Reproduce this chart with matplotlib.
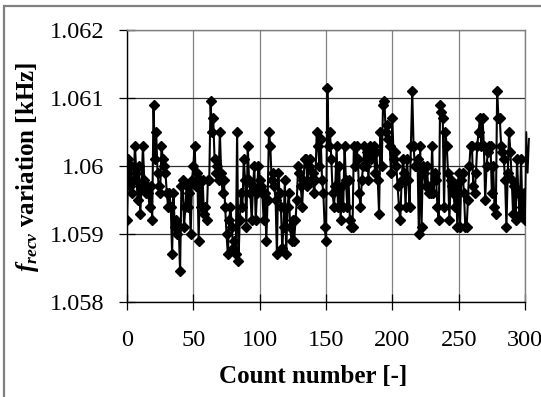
import numpy as np
import matplotlib
matplotlib.use("Agg")
import matplotlib.pyplot as plt
from matplotlib.patches import Rectangle

plt.rcParams['font.family'] = ['Liberation Serif', 'DejaVu Serif']
plt.rcParams['mathtext.fontset'] = 'custom'
plt.rcParams['mathtext.rm'] = 'Liberation Serif'
plt.rcParams['mathtext.it'] = 'Liberation Serif:italic'
plt.rcParams['mathtext.bf'] = 'Liberation Serif:bold'
plt.rcParams['mathtext.bfit'] = 'Liberation Serif:italic:bold'

# Frequency readings (kHz), count 0..300
freq_0_49 = [1.0592, 1.0601, 1.0597, 1.0600, 1.0596, 1.0598, 1.0603, 1.0599, 1.0595, 1.0600,
             1.0593, 1.0597, 1.0603, 1.0598, 1.0596, 1.0597, 1.0596, 1.0594, 1.0597, 1.0592,
             1.0609, 1.0601, 1.0605, 1.0599, 1.0597, 1.0596, 1.0603, 1.0601, 1.0600, 1.0599,
             1.0596, 1.0594, 1.0596, 1.0594, 1.0587, 1.0596, 1.0591, 1.0592, 1.0590, 1.0591,
             1.05845, 1.0597, 1.0598, 1.0591, 1.0594, 1.0597, 1.0594, 1.0596, 1.0590, 1.0598]
freq_50_99 = [1.0600, 1.0603, 1.0597, 1.0599, 1.0589, 1.0598, 1.0594, 1.0598, 1.0593, 1.0594,
              1.0592, 1.0598, 1.0598, 1.06095, 1.0605, 1.0607, 1.0601, 1.0599, 1.0600, 1.0598,
              1.0605, 1.0599, 1.0596, 1.0598, 1.0594, 1.0590, 1.0587, 1.0592, 1.0594, 1.0591,
              1.0588, 1.0589, 1.0587, 1.0605, 1.0586, 1.0592, 1.0596, 1.0594, 1.0601, 1.0598,
              1.0591, 1.0603, 1.0598, 1.0596, 1.0592, 1.0597, 1.0600, 1.0592, 1.0596, 1.0600]
freq_100_149 = [1.0598, 1.0597, 1.0596, 1.0592, 1.0596, 1.0589, 1.0595, 1.0605, 1.0603, 1.0598,
                1.0599, 1.0597, 1.0595, 1.0587, 1.0599, 1.0596, 1.0594, 1.0588, 1.0591, 1.0598,
                1.0587, 1.0594, 1.0596, 1.0591, 1.0589, 1.0592, 1.0589, 1.0592, 1.0595, 1.0600,
                1.0599, 1.0597, 1.0594, 1.0598, 1.0601, 1.0601, 1.0597, 1.0600, 1.0601, 1.0598,
                1.0599, 1.0596, 1.0598, 1.0605, 1.0603, 1.0600, 1.0604, 1.0598, 1.0596, 1.0591]
freq_150_199 = [1.0589, 1.06115, 1.0603, 1.0605, 1.0601, 1.0596, 1.0594, 1.0597, 1.0603, 1.0594,
                1.0600, 1.0592, 1.0597, 1.0594, 1.0603, 1.0598, 1.0594, 1.0598, 1.0592, 1.0591,
                1.0591, 1.0603, 1.0600, 1.0603, 1.0601, 1.0596, 1.0594, 1.0598, 1.0600, 1.0603,
                1.0600, 1.0602, 1.0598, 1.0603, 1.0601, 1.0602, 1.0603, 1.0599, 1.0602, 1.0598,
                1.0593, 1.0605, 1.0600, 1.0609, 1.06096, 1.0605, 1.0606, 1.0604, 1.0603, 1.0599]
freq_200_249 = [1.0607, 1.0601, 1.0602, 1.0600, 1.0597, 1.0594, 1.0592, 1.0598, 1.0601, 1.0599,
                1.0594, 1.0601, 1.0598, 1.0594, 1.0603, 1.0611, 1.0603, 1.0600, 1.0600, 1.0601,
                1.0590, 1.0603, 1.0591, 1.0600, 1.0599, 1.0597, 1.0600, 1.0597, 1.0596, 1.0596,
                1.0603, 1.0596, 1.0599, 1.0598, 1.0594, 1.0592, 1.0609, 1.0608, 1.0607, 1.0594,
                1.0605, 1.0603, 1.0599, 1.0592, 1.0598, 1.0597, 1.0596, 1.0594, 1.0597, 1.0591]
freq_250_300 = [1.0599, 1.0591, 1.0598, 1.0599, 1.0596, 1.0591, 1.0591, 1.0595, 1.0600, 1.0603,
                1.0603, 1.0597, 1.0596, 1.0599, 1.0603, 1.0605, 1.0607, 1.0603, 1.0607, 1.0603,
                1.0595, 1.0600, 1.0602, 1.0603, 1.0603, 1.0596, 1.0600, 1.0594, 1.0593, 1.0611,
                1.0607, 1.0607, 1.0603, 1.0602, 1.0601, 1.0598, 1.0591, 1.0599, 1.0605, 1.0602,
                1.0598, 1.0593, 1.0597, 1.0592, 1.0601, 1.0596, 1.0593, 1.0601, 1.0594, 1.0596,
                1.0592]
freq_beyond = [1.0605, 1.0599, 1.0604]

freq = np.array(freq_0_49 + freq_50_99 + freq_100_149 + freq_150_199 + freq_200_249 + freq_250_300)
count = np.arange(len(freq))
count_beyond = np.arange(len(freq) - 1, len(freq) + len(freq_beyond))
freq_tail = np.concatenate([[freq[-1]], freq_beyond])

x_ticks = [0, 50, 100, 150, 200, 250, 300]
y_ticks = [1.058, 1.059, 1.060, 1.061, 1.062]
y_ticklabels = ['1.058', '1.059', '1.06', '1.061', '1.062']

fig = plt.figure(figsize=(5.41, 3.97), dpi=100)
W, H = 541, 397
ax = fig.add_axes([127 / W, 1 - 302 / H, (525 - 127) / W, (302 - 30) / H])

ax.plot(count, freq, color='black', lw=1.5, marker='D', markersize=5.0,
        markerfacecolor='black', markeredgecolor='black', zorder=3)
ax.plot(count_beyond, freq_tail, color='black', lw=1.3, clip_on=False, zorder=3)

ax.set_xlim(0, 300)
ax.set_ylim(1.058, 1.062)
ax.set_xticks(x_ticks)
ax.set_xticklabels([str(t) for t in x_ticks])
ax.set_yticks(y_ticks)
ax.set_yticklabels(y_ticklabels)
ax.tick_params(axis='both', direction='inout', length=11, width=0.9, labelsize=17.5,
               color='black')
ax.tick_params(axis='x', pad=15)
ax.tick_params(axis='y', pad=11)

ax.grid(True, axis='y', color='#303030', lw=0.9)
ax.grid(True, axis='x', color='#808080', lw=0.9)
ax.set_axisbelow(True)
for s in ['top', 'right']:
    ax.spines[s].set_color('#808080')
    ax.spines[s].set_linewidth(1.0)
for s in ['left', 'bottom']:
    ax.spines[s].set_color('black')
    ax.spines[s].set_linewidth(1.0)

fig.text(313 / W, 1 - 377 / H, 'Count number [-]', ha='center', va='center',
         fontsize=18, fontweight='bold')
fig.text(28 / W, 1 - 167 / H, r'$\mathbfit{f}_{\mathbfit{recv}}$ variation [kHz]',
         ha='center', va='center', rotation=90, fontsize=18, fontweight='bold')

fig.patches.append(Rectangle((4 / W, -0.1), 1.2, 1.1 - 6 / H, transform=fig.transFigure,
                             fill=False, edgecolor='#808080', lw=1.6, zorder=0))

fig.savefig('out.png', dpi=100)
